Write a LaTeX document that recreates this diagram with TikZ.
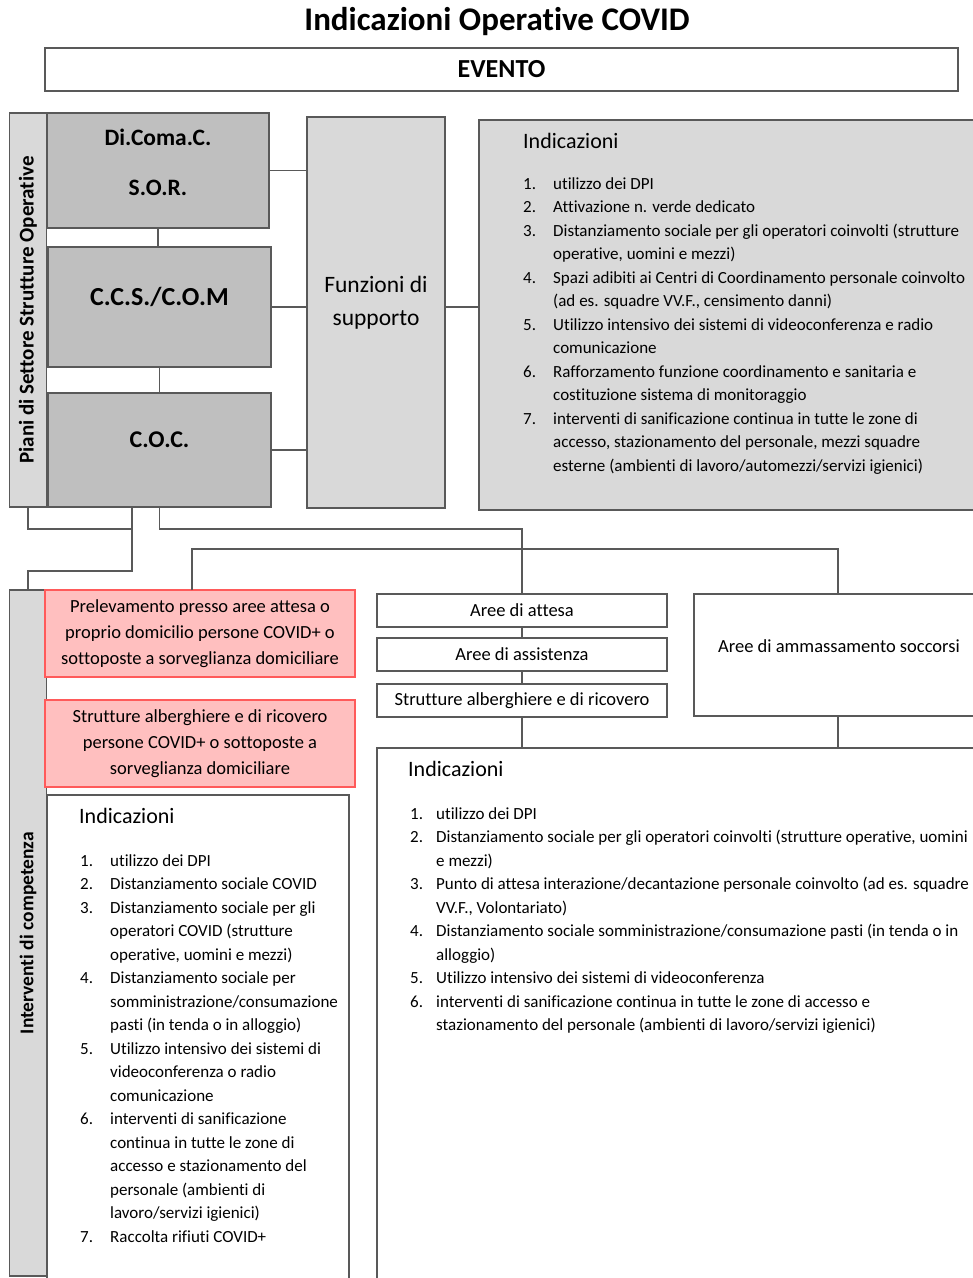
\documentclass[tikz,border=0pt]{standalone}
\usepackage{fontspec}
\setmainfont{Carlito}[Ligatures=NoCommon]
\usepackage{xcolor}
\definecolor{boxgray}{HTML}{BFBFBF}
\definecolor{panelgray}{HTML}{D9D9D9}
\definecolor{linegray}{HTML}{595959}
\definecolor{pinkfill}{HTML}{FFBFBF}
\definecolor{pinkedge}{HTML}{FF5A5A}

\begin{document}
\begin{tikzpicture}[x=1pt, y=-1pt,
  box/.style={draw=linegray, line width=1.1pt, inner sep=0pt, outer sep=0pt},
  dark/.style={box, fill=boxgray},
  light/.style={box, fill=panelgray},
  plain/.style={box, fill=white},
  alert/.style={draw=pinkedge, line width=1.1pt, fill=pinkfill, inner sep=0pt,
    outer sep=0pt, align=center, font=\fontsize{18.5}{26}\selectfont},
  area/.style={plain, minimum width=290, minimum height=33,
    font=\fontsize{18.5}{20}\selectfont},
  bar/.style={inner sep=0pt, font=\fontsize{21}{23}\selectfont\bfseries},
  wire/.style={draw=linegray, line width=1.1pt},
  hd/.style={anchor=base west, inner sep=0pt, font=\fontsize{22}{24}\selectfont},
  lst/.style={anchor=base west, inner sep=0pt, font=\fontsize{17}{23.5}\selectfont}]
  \useasboundingbox (0,0) rectangle (973,1278);
  \clip (0,0) rectangle (973,1278);

  \node[font=\fontsize{33}{35}\selectfont\bfseries] (title) at (497,22)
    {Indicazioni Operative COVID};
  \node[plain, minimum width=913, minimum height=43,
    font=\fontsize{26}{28}\selectfont\bfseries] (evento) at (501.5,69.5) {EVENTO};

  % strutture operative
  \node[light, minimum width=37, minimum height=394] (piani) at (28,310) {};
  \node[bar, rotate=90] (piani-t) at (piani) {Piani di Settore Strutture Operative};
  \node[dark, minimum width=222, minimum height=115] (dicomac) at (158,170.5) {};
  \node[align=center, font=\fontsize{23.5}{50}\selectfont\bfseries] (dicomac-t)
    at (158,162) {Di.Coma.C.\\S.O.R.};
  \node[dark, minimum width=223, minimum height=120] (ccs) at (159.5,307) {};
  \node[font=\fontsize{26}{28}\selectfont\bfseries] (ccs-t) at (159.5,297)
    {C.C.S./C.O.M};
  \node[dark, minimum width=223, minimum height=114] (coc) at (159.5,450) {};
  \node[font=\fontsize{24}{26}\selectfont\bfseries] (coc-t) at (159.5,440) {C.O.C.};

  \node[light, minimum width=138, minimum height=391] (funz) at (376,312.5) {};
  \node[align=center, font=\fontsize{23.5}{33}\selectfont] (funz-t) at (376,303)
    {Funzioni di\\supporto};

  \node[light, minimum width=511, minimum height=390] (indA) at (734.5,315) {};
  \node[hd] (indA-h) at (523,148) {Indicazioni};
  \node[lst] (indA-l) at (523,189) {\begin{tabular}[t]{@{}p{30pt}@{}l@{}}
    1. & utilizzo dei DPI\\
    2. & Attivazione n. verde dedicato\\
    3. & Distanziamento sociale per gli operatori coinvolti (strutture\\
       & operative, uomini e mezzi)\\
    4. & Spazi adibiti ai Centri di Coordinamento personale coinvolto\\
       & (ad es. squadre VV.F., censimento danni)\\
    5. & Utilizzo intensivo dei sistemi di videoconferenza e radio\\
       & comunicazione\\
    6. & Rafforzamento funzione coordinamento e sanitaria e\\
       & costituzione sistema di monitoraggio\\
    7. & interventi di sanificazione continua in tutte le zone di\\
       & accesso, stazionamento del personale, mezzi squadre\\
       & esterne (ambienti di lavoro/automezzi/servizi igienici)
  \end{tabular}};

  \draw[wire] (dicomac.south) -- (dicomac.south |- ccs.north);
  \draw[wire] (ccs.south) -- (ccs.south |- coc.north);
  \draw[wire] (dicomac.east) -- (dicomac.east -| funz.west);
  \draw[wire] (ccs.east) -- (ccs.east -| funz.west);
  \draw[wire] (coc.east) -- (coc.east -| funz.west);
  \draw[wire] (funz.east |- ccs) -- (indA.west |- ccs);

  % interventi di competenza
  \node[light, minimum width=37, minimum height=686] (interv) at (28,933) {};
  \node[bar, rotate=90, font=\fontsize{19.5}{21}\selectfont\bfseries] (interv-t)
    at (interv) {Interventi di competenza};
  \node[alert, minimum width=310, minimum height=87] (preliev) at (200,633.5)
    {Prelevamento presso aree attesa o\\proprio domicilio persone COVID+ o\\
     sottoposte a sorveglianza domiciliare};
  \node[alert, minimum width=310, minimum height=87] (alberg) at (200,743.5)
    {Strutture alberghiere e di ricovero\\persone COVID+ o sottoposte a\\
     sorveglianza domiciliare};
  \node[plain, minimum width=302, minimum height=505] (indC) at (198,1047.5) {};
  \node[hd] (indC-h) at (79,823) {Indicazioni};
  \node[lst] (indC-l) at (80,866) {\begin{tabular}[t]{@{}p{30pt}@{}l@{}}
    1. & utilizzo dei DPI\\
    2. & Distanziamento sociale COVID\\
    3. & Distanziamento sociale per gli\\
       & operatori COVID (strutture\\
       & operative, uomini e mezzi)\\
    4. & Distanziamento sociale per\\
       & somministrazione/consumazione\\
       & pasti (in tenda o in alloggio)\\
    5. & Utilizzo intensivo dei sistemi di\\
       & videoconferenza o radio\\
       & comunicazione\\
    6. & interventi di sanificazione\\
       & continua in tutte le zone di\\
       & accesso e stazionamento del\\
       & personale (ambienti di\\
       & lavoro/servizi igienici)\\
    7. & Raccolta rifiuti COVID+
  \end{tabular}};

  \node[area] (attesa) at (522,610.5) {Aree di attesa};
  \node[area] (assist) at (522,654.5) {Aree di assistenza};
  \node[area] (strutt) at (522,700.5) {Strutture alberghiere e di ricovero};
  \node[plain, minimum width=288, minimum height=122] (ammas) at (838,655) {};
  \node[font=\fontsize{18.5}{20}\selectfont] (ammas-t) at (839,646)
    {Aree di ammassamento soccorsi};
  \node[plain, minimum width=613, minimum height=552] (indB) at (683.5,1024) {};
  \node[hd] (indB-h) at (408,776) {Indicazioni};
  \node[lst] (indB-l) at (410,819) {\begin{tabular}[t]{@{}p{26pt}@{}l@{}}
    1. & utilizzo dei DPI\\
    2. & Distanziamento sociale per gli operatori coinvolti (strutture operative, uomini\\
       & e mezzi)\\
    3. & Punto di attesa interazione/decantazione personale coinvolto (ad es. squadre\\
       & VV.F., Volontariato)\\
    4. & Distanziamento sociale somministrazione/consumazione pasti (in tenda o in\\
       & alloggio)\\
    5. & Utilizzo intensivo dei sistemi di videoconferenza\\
    6. & interventi di sanificazione continua in tutte le zone di accesso e\\
       & stazionamento del personale (ambienti di lavoro/servizi igienici)
  \end{tabular}};

  \coordinate (j1) at (132,529);
  \coordinate (j2) at (132,571);
  \coordinate (bus) at (192,549);
  \draw[wire] (piani.south) |- (j1);
  \draw[wire] (coc.south -| j1) -- (j2) -| (interv.north);
  \draw[wire] (coc.south) |- (attesa.north |- j1) -- (attesa.north);
  \draw[wire] (preliev.north -| bus) -- (bus) -| (ammas.north);
  \draw[wire] (attesa.south) -- (assist.north);
  \draw[wire] (assist.south) -- (strutt.north);
  \draw[wire] (strutt.south) -- (strutt.south |- indB.north);
  \draw[wire] (ammas.south) -- (ammas.south |- indB.north);
\end{tikzpicture}
\end{document}
